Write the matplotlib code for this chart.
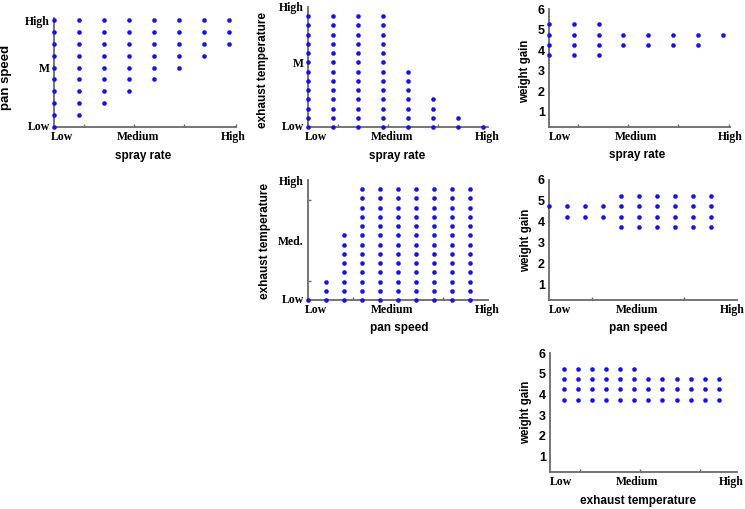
import matplotlib
matplotlib.use('Agg')
import matplotlib.pyplot as plt

W, H = 745, 509
BLUE = '#1010ff'
AXC = '#6a6a6a'

# spray rate columns (8 settings), pan speed levels 0..9
spray_cols = [0, 1, 2, 3, 4, 5, 6, 7]
pan_lo_by_spray = [0, 1, 2, 3, 4, 5, 6, 7]
pan_hi_by_spray = [9, 9, 9, 9, 9, 9, 9, 9]

# exhaust temperature levels 0..12 reached at each spray rate
exh_hi_by_spray = [12, 12, 12, 12, 6, 3, 1, 0]

# weight gain values at each spray rate
wg_by_spray = [
    [3.75, 4.25, 4.75, 5.25],
    [3.75, 4.25, 4.75, 5.25],
    [3.75, 4.25, 4.75, 5.25],
    [4.25, 4.75],
    [4.25, 4.75],
    [4.25, 4.75],
    [4.25, 4.75],
    [4.75],
]

# pan speed columns (10 settings)
pan_cols = [0, 1, 2, 3, 4, 5, 6, 7, 8, 9]
exh_hi_by_pan = [0, 2, 7, 12, 12, 12, 12, 12, 12, 12]
wg_by_pan = [
    [4.75],
    [4.25, 4.75],
    [4.25, 4.75],
    [4.25, 4.75],
    [3.75, 4.25, 4.75, 5.25],
    [3.75, 4.25, 4.75, 5.25],
    [3.75, 4.25, 4.75, 5.25],
    [3.75, 4.25, 4.75, 5.25],
    [3.75, 4.25, 4.75, 5.25],
    [3.75, 4.25, 4.75, 5.25],
]

# exhaust temperature columns (12 settings)
exh_cols = [1, 2, 3, 4, 5, 6, 7, 8, 9, 10, 11, 12]
wg_by_exh = [
    [3.75, 4.25, 4.75, 5.25],
    [3.75, 4.25, 4.75, 5.25],
    [3.75, 4.25, 4.75, 5.25],
    [3.75, 4.25, 4.75, 5.25],
    [3.75, 4.25, 4.75, 5.25],
    [3.75, 4.25, 4.75, 5.25],
    [3.75, 4.25, 4.75],
    [3.75, 4.25, 4.75],
    [3.75, 4.25, 4.75],
    [3.75, 4.25, 4.75],
    [3.75, 4.25, 4.75],
    [3.75, 4.25, 4.75],
]

lmh = ['Low', 'Medium', 'High']
wg_ticks = [1, 2, 3, 4, 5, 6]

SERIF = 'Liberation Serif'
SANS = 'Liberation Sans'

fig = plt.figure(figsize=(W / 100, H / 100), dpi=100)


def make_ax(box, xlim, ylim):
    l, t, r, b = box
    ax = fig.add_axes([l / W, 1 - b / H, (r - l) / W, (b - t) / H])
    ax.set_xlim(*xlim)
    ax.set_ylim(*ylim)
    ax.patch.set_alpha(0)
    for s in ['top', 'right']:
        ax.spines[s].set_visible(False)
    for s in ['left', 'bottom']:
        ax.spines[s].set_color(AXC)
        ax.spines[s].set_linewidth(1.3)
    ax.tick_params(which='major', length=0, pad=3)
    ax.tick_params(which='minor', direction='in', length=2.5, width=1, color=AXC)
    return ax


def dots(ax, xs, ys):
    ax.plot(xs, ys, 'o', ms=3.3, color=BLUE, mec='none', clip_on=False, zorder=5)


def xlabels(ax, pos, minor):
    ax.set_xticks(pos, lmh, fontfamily=SERIF, fontsize=8.5, fontweight='bold')
    ax.set_xticks(minor, minor=True)


def ylevels(ax, pos, labels, minor=()):
    ax.set_yticks(pos, labels, fontfamily=SERIF, fontsize=8.5, fontweight='bold')
    ax.set_yticks(list(minor), minor=True)


def ywg(ax):
    ax.set_yticks(wg_ticks, [str(v) for v in wg_ticks], fontfamily=SANS,
                  fontsize=9, fontweight='bold')


def label(x, y, s, rot=0, size=8.5):
    fig.text(x / W, 1 - y / H, s, ha='center', va='center', rotation=rot,
             fontfamily=SANS, fontweight='bold', fontsize=size)


# 1: spray rate vs pan speed
ax = make_ax((54, 18, 236, 127), (0, 7.28), (0, 9.17))
xs, ys = [], []
for c, lo, hi in zip(spray_cols, pan_lo_by_spray, pan_hi_by_spray):
    for v in range(lo, hi + 1):
        xs.append(c)
        ys.append(v)
dots(ax, xs, ys)
xlabels(ax, [0.32, 3.36, 7.16], [1.2, 3.2, 5.2, 7.28])
ylevels(ax, [0.1, 5, 9], ['Low', 'M', 'High'])
label(143, 156, 'spray rate')
label(6, 77, 'pan speed', rot=90, size=9.5)

# 2: spray rate vs exhaust temperature
ax = make_ax((308, 7, 488, 127), (0, 7.2), (0, 13))
xs, ys = [], []
for c, hi in zip(spray_cols, exh_hi_by_spray):
    for v in range(0, hi + 1):
        xs.append(c)
        ys.append(v)
dots(ax, xs, ys)
xlabels(ax, [0.32, 3.36, 7.16], [1.2, 3.2, 5.2])
ylevels(ax, [0.2, 7, 13], ['Low', 'M', 'High'])
label(397, 156, 'spray rate')
label(263, 70, 'exhaust temperature', rot=90)

# 3: spray rate vs weight gain
ax = make_ax((549, 9, 730, 127), (0, 7.24), (0.25, 6))
xs, ys = [], []
for c, vals in zip(spray_cols, wg_by_spray):
    for v in vals:
        xs.append(c)
        ys.append(v)
dots(ax, xs, ys)
xlabels(ax, [0.43, 3.5, 7.3], [1.16, 3.2, 5.2, 7.24])
ywg(ax)
label(637, 155, 'spray rate')
label(525, 71, 'weight gain', rot=90, size=8.3)

# 4: pan speed vs exhaust temperature
ax = make_ax((308, 180, 488, 300), (0, 10), (0, 13))
xs, ys = [], []
for c, hi in zip(pan_cols, exh_hi_by_pan):
    for v in range(0, hi + 1):
        xs.append(c)
        ys.append(v)
dots(ax, xs, ys)
xlabels(ax, [0.44, 4.67, 9.94], [2.5, 7.5])
ylevels(ax, [0.2, 6.4, 13], ['Low', 'Med.', 'High'], minor=[2.1, 6.4, 10.8])
label(399, 328, 'pan speed')
label(265, 241, 'exhaust temperature', rot=90)

# 5: pan speed vs weight gain
ax = make_ax((549, 180, 737, 300), (0, 10.44), (0.25, 6))
xs, ys = [], []
for c, vals in zip(pan_cols, wg_by_pan):
    for v in vals:
        xs.append(c)
        ys.append(v)
dots(ax, xs, ys)
xlabels(ax, [0.6, 4.9, 10.2], [2.4, 4.9, 7.5])
ywg(ax)
label(638, 328, 'pan speed')
label(526, 240, 'weight gain', rot=90, size=8.3)

# 6: exhaust temperature vs weight gain
ax = make_ax((550, 353, 737, 472), (0, 13.3), (0.25, 6))
xs, ys = [], []
for c, vals in zip(exh_cols, wg_by_exh):
    for v in vals:
        xs.append(c)
        ys.append(v)
dots(ax, xs, ys)
xlabels(ax, [0.78, 6.2, 12.9], [2.1, 6.4, 10.7])
ywg(ax)
label(638, 501, 'exhaust temperature')
label(526, 412, 'weight gain', rot=90, size=8.3)

fig.savefig('out.png', dpi=100)
